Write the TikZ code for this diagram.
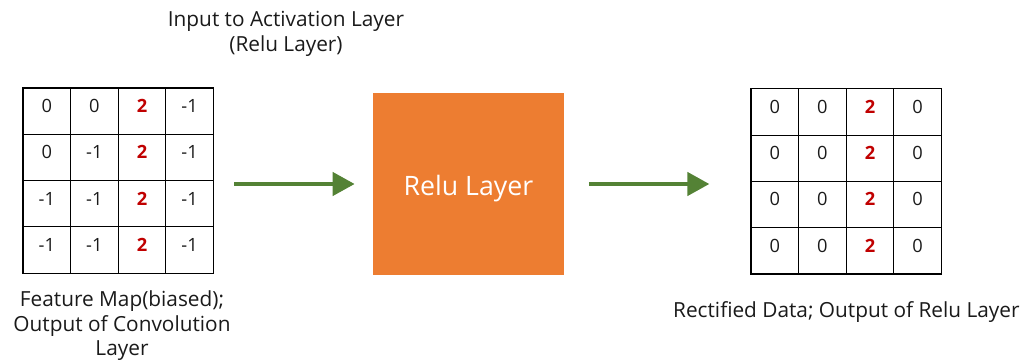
\documentclass[tikz,border=0pt]{standalone}
\usepackage{fontspec}
\setmainfont{Open Sans}
\usepackage{xcolor}
\usetikzlibrary{arrows.meta, fit}

\definecolor{reluorange}{HTML}{ED7D31}
\definecolor{flowgreen}{HTML}{548235}
\definecolor{posred}{HTML}{C00000}
\definecolor{inkgray}{HTML}{1A1A1A}

\tikzset{
    cell/.style={draw, line width=0.8pt, minimum width=1.19cm, minimum height=1.157cm,
        inner sep=0pt, text height=9pt, text depth=7pt, text=inkgray,
        font=\fontsize{13}{15}\selectfont},
    posval/.style={text=posred, font=\fontsize{13}{15}\selectfont\bfseries},
    flow/.style={draw=flowgreen, line width=2.8pt, -{Triangle[length=0.55cm, width=0.58cm]}},
    caption/.style={align=center, text=inkgray, font=\fontsize{14.8}{17.4}\selectfont},
}

\begin{document}
\begin{tikzpicture}
    \useasboundingbox (0,0) rectangle (25.65,9);

    % feature map before the activation
    \foreach \a/\b/\d [count=\r from 0] in {0/0/-1, 0/-1/-1, -1/-1/-1, -1/-1/-1} {
        \node[cell] (in-\r-0) at (1.17, 6.22-1.157*\r) {\a};
        \node[cell] (in-\r-1) at (2.36, 6.22-1.157*\r) {\b};
        \node[cell, posval] (in-\r-2) at (3.55, 6.22-1.157*\r) {2};
        \node[cell] (in-\r-3) at (4.74, 6.22-1.157*\r) {\d};
    }

    % rectified output
    \foreach \r in {0,...,3} {
        \node[cell] (out-\r-0) at (19.37, 6.2-1.157*\r) {0};
        \node[cell] (out-\r-1) at (20.56, 6.2-1.157*\r) {0};
        \node[cell, posval] (out-\r-2) at (21.75, 6.2-1.157*\r) {2};
        \node[cell] (out-\r-3) at (22.94, 6.2-1.157*\r) {0};
    }

    \node[fit=(in-0-0)(in-3-3), inner sep=0pt] (ingrid) {};
    \node[fit=(out-0-0)(out-3-3), inner sep=0pt] (outgrid) {};

    \node[fill=reluorange, minimum width=4.775cm, minimum height=4.55cm,
        text height=16pt, text depth=0pt,
        text=white, font=\fontsize{19}{22}\selectfont] (relu) at (11.71, 4.4) {Relu Layer};

    \draw[flow, shorten <=0.5cm, shorten >=0.45cm] (ingrid.east |- relu.west) -- (relu.west);
    \draw[flow, shorten <=0.62cm, shorten >=1.02cm] (relu.east) -- (outgrid.west |- relu.east);

    \node[caption] (intitle) at (7.15, 8.15) {Input to Activation Layer\\(Relu Layer)};
    \node[caption] (incap) at (3.05, 0.85) {Feature Map(biased);\\Output of Convolution\\Layer};
    \node[caption] (outcap) at (21.16, 1.2) {Rectified Data; Output of Relu Layer};
\end{tikzpicture}
\end{document}
